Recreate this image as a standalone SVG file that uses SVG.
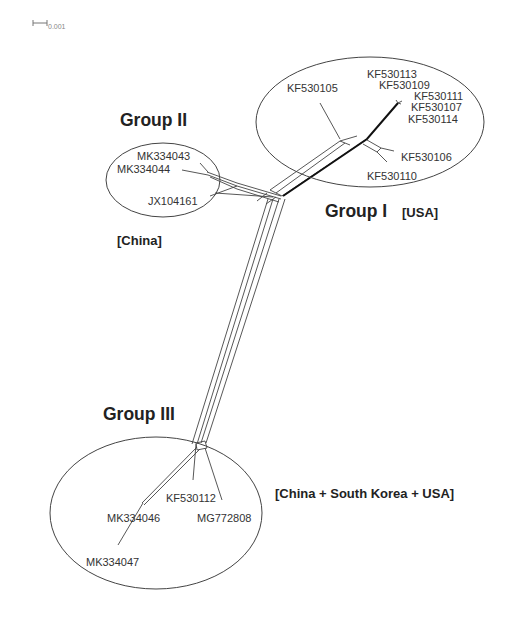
<svg xmlns="http://www.w3.org/2000/svg" width="524" height="617" viewBox="0 0 524 617">
<style>
.ell{fill:none;stroke:#444;stroke-width:1}
.net{fill:none;stroke:#444;stroke-width:0.9;stroke-linejoin:round}
.thick{fill:none;stroke:#111;stroke-width:2}
.lbl{font-family:"Liberation Sans",Arial,sans-serif;font-size:11px;fill:#333}
.grp{font-family:"Liberation Sans",Arial,sans-serif;font-size:17.5px;font-weight:bold;fill:#222}
.reg{font-family:"Liberation Sans",Arial,sans-serif;font-size:13px;font-weight:bold;fill:#222}
</style>
<rect width="524" height="617" fill="#fff"/>
<g id="scale">
<path d="M33 23H47M33 20V26M47 20V26" stroke="#777" stroke-width="1" fill="none"/>
<text x="48" y="29" font-family="Liberation Sans,Arial,sans-serif" font-size="7" fill="#888">0.001</text>
</g>
<g id="connectors">
<path class="net" d="M268 199L192 444M273 199L197 444M285 199L206 443"/>
<path class="net" d="M279 199L201 443" stroke-width="1.4"/>
<path class="net" d="M270 190L340 141L357 136M282 196L367 139M340 141L350 145M270 190L282 196"/>
<path class="net" d="M276 193L345 143"/>
<path class="thick" d="M283 196L367 139L398 103"/>
<path class="net" d="M398 103L396 100M398 103L402 101M398 103L401 104"/>
<path class="net" d="M320 103L340 139"/>
<path class="net" d="M367 140L381 148L377 152L363 144M381 148L394 151M377 152L387 162"/>
<path class="net" d="M281 196L237 183L207 172M281 199L237 186L208 175M279 202L237 189L210 177"/>
<path class="net" d="M200 163L208 172M182 170L208 175M210 196L237 186M215 193L273 197M257 201L267 193M266 204L276 197"/>
<path class="net" d="M196 443L205 441L207 448L197 450Z"/>
<path class="net" d="M196 444L193 480M205 448L222 500M197 447L142 503M200 449L144 505M143 503L118 545"/>
</g>
<g id="groupI">
<ellipse class="ell" cx="370" cy="122" rx="114" ry="65"/>
<text class="grp" x="325" y="217">Group I</text>
<text class="reg" x="402" y="217">[USA]</text>
<text class="lbl" x="287" y="92">KF530105</text>
<text class="lbl" x="367" y="78">KF530113</text>
<text class="lbl" x="379" y="89">KF530109</text>
<text class="lbl" x="414" y="100">KF530111</text>
<text class="lbl" x="411" y="111">KF530107</text>
<text class="lbl" x="408" y="123">KF530114</text>
<text class="lbl" x="401" y="161">KF530106</text>
<text class="lbl" x="367" y="180">KF530110</text>
</g>
<g id="groupII">
<ellipse class="ell" cx="163" cy="180" rx="57" ry="37"/>
<text class="grp" x="120" y="126">Group II</text>
<text class="reg" x="117" y="245">[China]</text>
<text class="lbl" x="137" y="160">MK334043</text>
<text class="lbl" x="117" y="173">MK334044</text>
<text class="lbl" x="148" y="205">JX104161</text>
</g>
<g id="groupIII">
<ellipse class="ell" cx="156" cy="513" rx="106" ry="76"/>
<text class="grp" x="103" y="420">Group III</text>
<text class="reg" x="275" y="498">[China + South Korea + USA]</text>
<text class="lbl" x="166" y="502">KF530112</text>
<text class="lbl" x="107" y="522">MK334046</text>
<text class="lbl" x="197" y="522">MG772808</text>
<text class="lbl" x="86" y="566">MK334047</text>
</g>
</svg>
